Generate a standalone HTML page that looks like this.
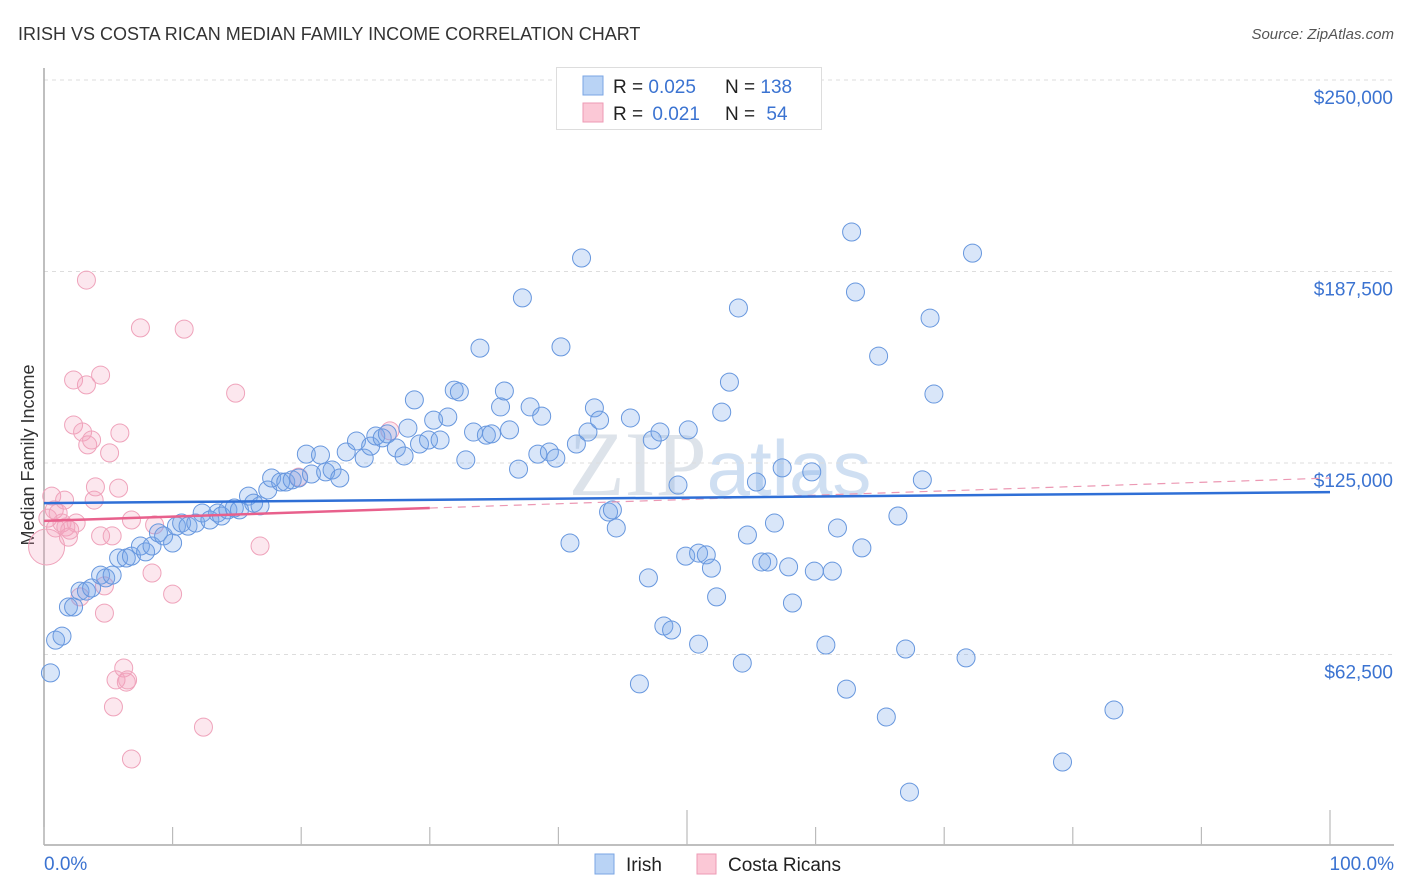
<!DOCTYPE html>
<html><head><meta charset="utf-8"><style>
body{margin:0;background:#fff;font-family:"Liberation Sans",sans-serif;}
#wrap{position:relative;width:1406px;height:892px;overflow:hidden;}
</style></head><body>
<div id="wrap">
<svg id="chart" width="1406" height="892">
<text x="18" y="40" font-size="18" fill="#333">IRISH VS COSTA RICAN MEDIAN FAMILY INCOME CORRELATION CHART</text>
<text x="1394" y="39" font-size="15" fill="#555" text-anchor="end" font-style="italic">Source: ZipAtlas.com</text>
<text x="34" y="455" font-size="18" fill="#333" text-anchor="middle" transform="rotate(-90 34 455)">Median Family Income</text>
<text x="720" y="495" font-size="92" fill="#dde3ea" text-anchor="middle" font-family="Liberation Serif,serif">ZIP<tspan fill="#cfdff2" font-family="Liberation Sans,sans-serif" font-size="78">atlas</tspan></text>
<g id="grid"></g><g id="axes"></g><g id="pink"></g><g id="blue"></g><g id="trend"></g>
<g>
<rect x="556.5" y="67.5" width="265" height="62" fill="#fff" stroke="#ddd"/>
<rect x="583" y="76" width="20" height="19" fill="#b9d3f5" stroke="#7aa6e4"/>
<rect x="583" y="103" width="20" height="19" fill="#fbc8d6" stroke="#ee9ab4"/>
<text x="613" y="93" font-size="19" fill="#222">R = <tspan fill="#3b73d1">0.025</tspan></text>
<text x="725" y="93" font-size="19" fill="#222">N = <tspan fill="#3b73d1">138</tspan></text>
<text x="613" y="120" font-size="19" fill="#222">R = <tspan fill="#3b73d1" dx="4">0.021</tspan></text>
<text x="725" y="120" font-size="19" fill="#222">N = <tspan fill="#3b73d1" dx="6">54</tspan></text>
</g>
<g>
<rect x="595" y="854" width="19" height="20" fill="#b9d3f5" stroke="#7aa6e4"/>
<text x="626" y="871" font-size="19" fill="#222">Irish</text>
<rect x="697" y="854" width="19" height="20" fill="#fbc8d6" stroke="#ee9ab4"/>
<text x="728" y="871" font-size="19" fill="#222">Costa Ricans</text>
</g>
</svg>
</div>
<script>
const yTicks=[62500,125000,187500,250000];
const yTickLabels=["$62,500","$125,000","$187,500","$250,000"];
const xTickLabels=["0.0%","100.0%"];
const blueX=[0.5,0.9,1.4,1.9,2.3,2.8,3.3,3.7,4.4,4.8,5.3,5.8,6.4,6.8,7.5,7.9,8.4,8.9,9.3,10.0,10.3,10.7,11.2,11.8,12.3,12.9,13.5,13.8,14.3,14.8,15.2,15.9,16.3,16.8,17.4,17.7,18.4,18.8,19.3,19.8,20.4,20.8,21.5,21.9,22.4,23.0,23.5,24.3,24.9,25.4,25.8,26.3,26.7,27.4,28.0,28.3,28.8,29.2,29.9,30.3,30.8,31.4,31.9,32.3,32.8,33.4,33.9,34.4,34.8,35.5,35.8,36.2,36.9,37.2,37.8,38.4,38.7,39.3,39.8,40.2,40.9,41.4,41.8,42.3,42.8,43.2,43.9,44.2,44.5,45.6,46.3,47.0,47.3,47.9,48.2,48.8,49.3,49.9,50.1,50.9,50.9,51.5,51.9,52.3,52.7,53.3,54.0,54.3,54.7,55.4,55.8,56.3,56.8,57.4,57.9,58.2,59.7,59.9,60.8,61.3,61.7,62.4,62.8,63.1,63.6,64.9,65.5,66.4,67.0,67.3,68.3,68.9,69.2,71.7,72.2,79.2,83.2];
const blueY=[56.5,67.2,68.5,78.0,78.0,83.2,83.2,84.2,88.4,87.5,88.4,94.0,94.0,94.6,97.9,96.0,97.9,102.2,101.2,98.9,104.4,105.4,104.4,105.4,108.7,106.4,108.7,107.7,109.7,110.3,109.7,114.2,111.9,111.0,116.2,120.1,118.8,118.8,119.5,120.1,127.9,121.4,127.6,122.1,122.7,120.1,128.6,132.2,126.6,130.5,133.8,133.2,134.5,129.9,127.3,136.4,145.6,131.2,132.5,139.0,132.5,140.0,148.8,148.2,126.0,135.1,162.5,134.1,134.5,143.3,148.5,135.8,123.0,178.9,143.3,127.9,140.3,128.6,126.6,162.9,98.9,131.2,191.9,135.1,143.0,139.0,109.0,109.7,103.8,139.7,52.9,87.5,132.5,135.1,71.8,70.5,117.8,94.6,135.8,65.9,95.6,95.0,90.7,81.3,141.6,151.4,175.6,59.7,101.5,118.8,92.7,92.7,105.4,123.4,91.1,79.3,122.1,89.7,65.6,89.7,103.8,51.2,200.4,180.8,97.3,159.9,42.1,107.7,64.3,17.6,119.5,172.3,147.5,61.4,193.5,27.4,44.4];
const pinkX=[0.2,0.3,0.6,0.8,0.9,1.1,1.4,1.6,1.7,1.9,2.0,2.3,2.3,2.5,2.8,3.0,3.3,3.3,3.4,3.7,3.9,4.0,4.4,4.4,4.7,4.7,5.1,5.3,5.4,5.6,5.8,5.9,6.2,6.4,6.5,6.8,6.8,7.5,8.4,8.6,10.0,10.9,12.4,14.9,16.8,19.8,26.9];
const pinkY=[97.6,107.0,114.2,109.7,103.8,108.7,105.4,112.9,104.1,100.8,103.1,152.1,137.4,105.4,81.3,135.1,150.5,184.7,130.9,132.5,112.9,117.2,153.7,101.2,76.0,84.9,128.3,101.2,45.4,54.2,116.8,134.8,58.1,53.5,54.2,28.4,106.4,169.1,89.1,104.8,82.2,168.7,38.8,147.8,97.9,120.4,135.5];
const blueTrend=[111.9,115.5];
const pinkTrend=[106.1,120.1];
const NS="http://www.w3.org/2000/svg";
function sx(p){return 44+p*(1330-44)/100;}
function sy(v){return 463-(v-125000)*191.5/62500;}
function mk(tag,attrs,parent){const e=document.createElementNS(NS,tag);for(const k in attrs)e.setAttribute(k,attrs[k]);document.getElementById(parent).appendChild(e);return e;}
yTicks.forEach((t,i)=>{
  const l=mk('line',{x1:44,x2:1394,y1:sy(t),y2:sy(t),stroke:'#ddd','stroke-dasharray':'4,4'},'grid');
  
  
  const tx=mk('text',{x:1393,y:sy(t)+24,'font-size':19,fill:'#3b73d1','text-anchor':'end'},'grid');
  tx.textContent=yTickLabels[i];
  
  
});
const ax=mk('line',{x1:44,x2:44,y1:68,y2:845,stroke:'#aaa','stroke-width':1.5},'axes');


const bx=mk('line',{x1:44,x2:1394,y1:845,y2:845,stroke:'#aaa','stroke-width':1.5},'axes');


for(let i=0;i<=10;i++){
  const big=(i===5||i===10);
  const t=mk('line',{x1:sx(i*10),x2:sx(i*10),y1:big?810:827,y2:845,stroke:'#bbb','stroke-width':1.2},'axes');
  
  
}
const xl0=mk('text',{x:44,y:870,'font-size':19,fill:'#3b73d1'},'axes');xl0.textContent=xTickLabels[0];


const xl1=mk('text',{x:1394,y:870,'font-size':19,fill:'#3b73d1','text-anchor':'end'},'axes');xl1.textContent=xTickLabels[1];


pinkX.forEach((x,i)=>{
  const c=mk('circle',{cx:sx(x),cy:sy(pinkY[i]*1000),r:i===0?18:9,fill:'rgba(244,160,188,0.25)',stroke:'#efa3bb','stroke-width':1},'pink');
  
  
});
blueX.forEach((x,i)=>{
  const c=mk('circle',{cx:sx(x),cy:sy(blueY[i]*1000),r:9,fill:'rgba(120,165,232,0.28)',stroke:'#6797de','stroke-width':1},'blue');
  
  
});
const pm=(pinkTrend[1]-pinkTrend[0])/100;
const pd=mk('line',{x1:sx(30),y1:sy((pinkTrend[0]+pm*30)*1000),x2:sx(100),y2:sy(pinkTrend[1]*1000),stroke:'#ec98b3','stroke-width':1.2,'stroke-dasharray':'8,6'},'trend');


const ps=mk('line',{x1:sx(0),y1:sy(pinkTrend[0]*1000),x2:sx(30),y2:sy((pinkTrend[0]+pm*30)*1000),stroke:'#e8608c','stroke-width':2.5},'trend');


const bl=mk('line',{x1:sx(0),y1:sy(blueTrend[0]*1000),x2:sx(100),y2:sy(blueTrend[1]*1000),stroke:'#2f6fd6','stroke-width':2.5},'trend');


</script>
</body></html>
